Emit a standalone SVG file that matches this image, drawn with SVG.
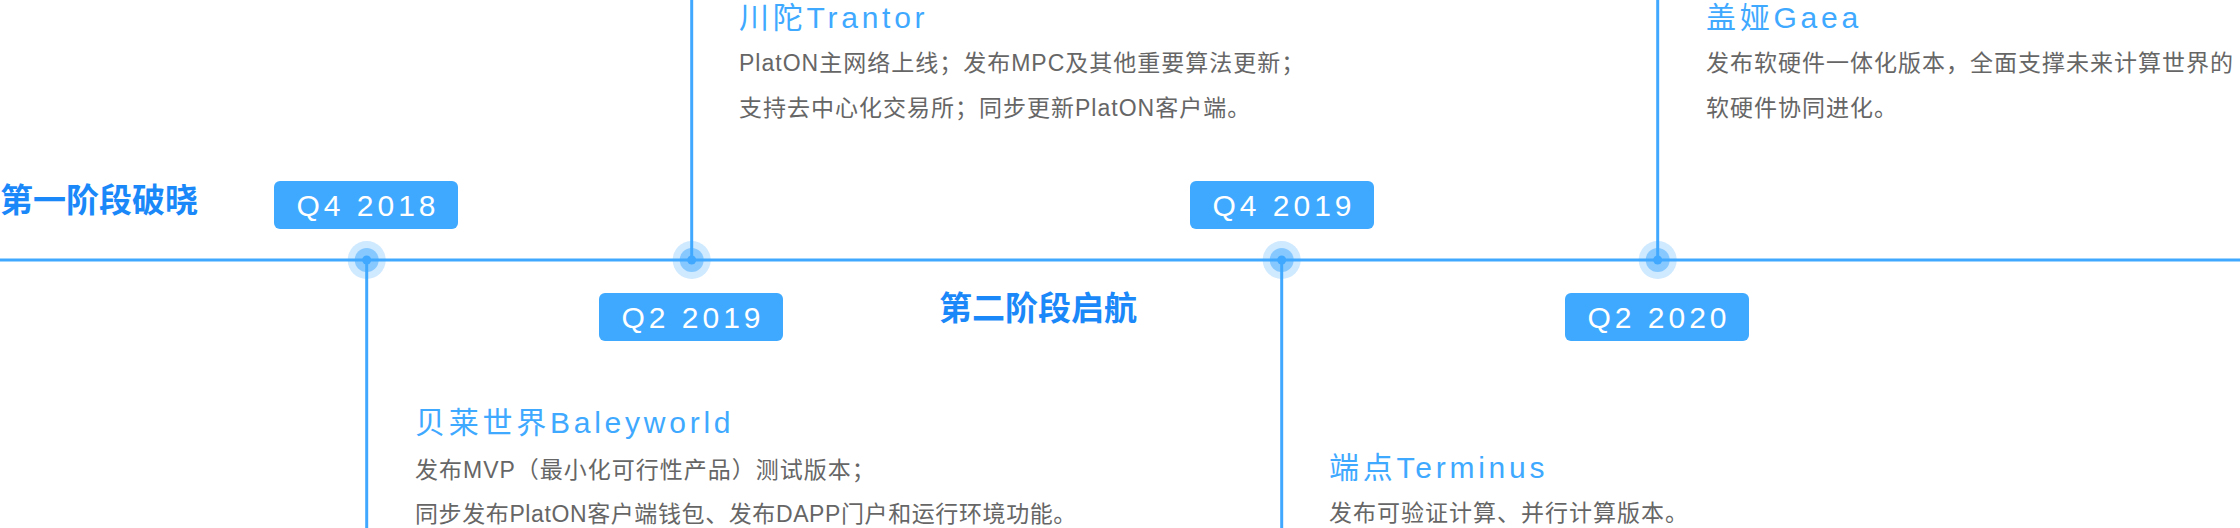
<svg xmlns="http://www.w3.org/2000/svg" width="2240" height="528" viewBox="0 0 2240 528">
<style>
.ln{stroke:#40a9ff;stroke-width:3;fill:none}
.ring{fill:#40a9ff;fill-opacity:0.25}
.mid{fill:#40a9ff;fill-opacity:0.5}
.dot{fill:#40a9ff}
.box{fill:#3fa9ff}
.q{font-family:"Liberation Sans","Noto Sans CJK SC",sans-serif;font-size:30px;fill:#fff;letter-spacing:4px;text-anchor:middle}
.phase{font-family:"Noto Sans CJK SC",sans-serif;font-size:33px;font-weight:bold;fill:#1a88f8}
.ttl{font-family:"Liberation Sans","Noto Sans CJK SC",sans-serif;font-size:30px;fill:#3fa9ff;letter-spacing:3.75px}
.body{font-family:"Liberation Sans","Noto Sans CJK SC",sans-serif;font-size:23px;fill:#666;letter-spacing:1px}
.tight{letter-spacing:0.6px}
</style>
<rect width="2240" height="528" fill="#fff"/>
<g id="connectors">
<line class="ln" x1="0" y1="260" x2="2240" y2="260"/>
<line class="ln" x1="366.7" y1="260" x2="366.7" y2="528"/>
<line class="ln" x1="691.7" y1="0" x2="691.7" y2="260"/>
<line class="ln" x1="1281.7" y1="260" x2="1281.7" y2="528"/>
<line class="ln" x1="1657.7" y1="0" x2="1657.7" y2="260"/>
</g>
<g id="phase1"><text class="phase" x="0" y="212">第一阶段破晓</text></g>
<g id="phase2"><text class="phase" x="939" y="320">第二阶段启航</text></g>
<g id="node-q4-2018">
<circle class="ring" cx="366.7" cy="260" r="19"/><circle class="mid" cx="366.7" cy="260" r="12"/><circle class="dot" cx="366.7" cy="260" r="4.5"/>
<rect class="box" x="274" y="181" width="184" height="48" rx="6"/>
<text class="q" x="368" y="216">Q4 2018</text>
<text class="ttl" x="415" y="433">贝莱世界Baleyworld</text>
<text class="body" x="415" y="478">发布MVP（最小化可行性产品）测试版本；</text>
<text class="body tight" x="415" y="522">同步发布PlatON客户端钱包、发布DAPP门户和运行环境功能。</text>
</g>
<g id="node-q2-2019">
<circle class="ring" cx="691.7" cy="260" r="19"/><circle class="mid" cx="691.7" cy="260" r="12"/><circle class="dot" cx="691.7" cy="260" r="4.5"/>
<rect class="box" x="599" y="293" width="184" height="48" rx="6"/>
<text class="q" x="693" y="328">Q2 2019</text>
<text class="ttl" x="739" y="28">川陀Trantor</text>
<text class="body" x="739" y="71">PlatON主网络上线；发布MPC及其他重要算法更新；</text>
<text class="body" x="739" y="116">支持去中心化交易所；同步更新PlatON客户端。</text>
</g>
<g id="node-q4-2019">
<circle class="ring" cx="1281.7" cy="260" r="19"/><circle class="mid" cx="1281.7" cy="260" r="12"/><circle class="dot" cx="1281.7" cy="260" r="4.5"/>
<rect class="box" x="1190" y="181" width="184" height="48" rx="6"/>
<text class="q" x="1284" y="216">Q4 2019</text>
<text class="ttl" x="1329" y="478">端点Terminus</text>
<text class="body" x="1329" y="521">发布可验证计算、并行计算版本。</text>
</g>
<g id="node-q2-2020">
<circle class="ring" cx="1657.7" cy="260" r="19"/><circle class="mid" cx="1657.7" cy="260" r="12"/><circle class="dot" cx="1657.7" cy="260" r="4.5"/>
<rect class="box" x="1565" y="293" width="184" height="48" rx="6"/>
<text class="q" x="1659" y="328">Q2 2020</text>
<text class="ttl" x="1706" y="28">盖娅Gaea</text>
<text class="body" x="1706" y="71">发布软硬件一体化版本，全面支撑未来计算世界的</text>
<text class="body" x="1706" y="116">软硬件协同进化。</text>
</g>
</svg>
